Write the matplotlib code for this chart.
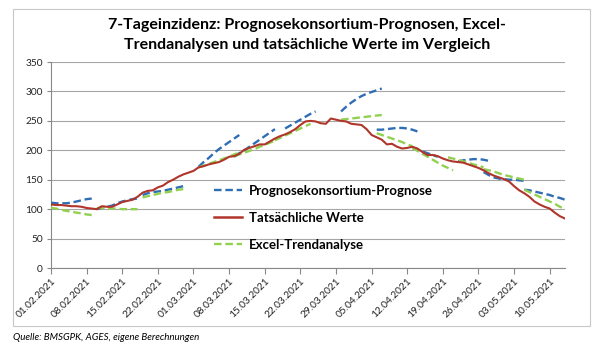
import matplotlib
matplotlib.use("Agg")
import matplotlib.pyplot as plt
from matplotlib.patches import Rectangle
from matplotlib.lines import Line2D
from datetime import datetime

plt.rcParams['font.family'] = ['Lato', 'DejaVu Sans']

# ---------------- data ----------------
first_date = "01.02.2021"
tick_labels = ["01.02.2021", "08.02.2021", "15.02.2021", "22.02.2021", "01.03.2021",
               "08.03.2021", "15.03.2021", "22.03.2021", "29.03.2021", "05.04.2021",
               "12.04.2021", "19.04.2021", "26.04.2021", "03.05.2021", "10.05.2021"]

# actual 7-day incidence, daily from 01.02.2021 to 13.05.2021
actual = [108, 107, 107, 106, 105, 105, 104, 102, 101, 100,
          105, 104, 104, 108, 112, 114, 116, 121, 128, 131,
          132, 137, 140, 146, 150, 155, 159, 162, 165, 171,
          173, 176, 178, 180, 184, 189, 190, 194, 201, 204,
          207, 210, 210, 215, 220, 224, 227, 231, 236, 243,
          249, 250, 249, 246, 245, 254, 252, 250, 249, 245,
          244, 243, 236, 226, 222, 218, 210, 211, 206, 203,
          204, 206, 203, 197, 192, 192, 190, 186, 183, 181,
          180, 179, 176, 173, 170, 166, 161, 157, 154, 151,
          147, 139, 132, 127, 121, 113, 108, 104, 101, 94,
          88, 84]

# Prognosekonsortium forecasts: start date and daily values
prog_starts = ["01.02.2021", "10.02.2021", "19.02.2021", "02.03.2021", "09.03.2021",
               "19.03.2021", "30.03.2021", "06.04.2021", "13.04.2021", "22.04.2021",
               "27.04.2021", "05.05.2021"]
prog_values = [
    [111, 110, 110, 110, 111, 113, 115, 117, 118],
    [100, 102, 104, 106, 110, 113, 115, 117, 118],
    [124, 127, 129, 130, 131, 133, 135, 137, 139],
    [172, 180, 187, 195, 202, 208, 214, 220, 226],
    [189, 195, 200, 206, 212, 218, 224, 230, 236],
    [237, 242, 247, 252, 257, 262, 266],
    [266, 274, 281, 287, 292, 296, 299, 302, 305],
    [235, 235, 236, 237, 238, 238, 237, 235, 232],
    [204, 201, 198, 195, 192, 189],
    [181, 183, 184, 185, 185, 184, 182],
    [163, 158, 154, 152, 151, 150, 150, 149, 148],
    [133, 132, 130, 128, 126, 124, 121, 119, 116],
]

# Excel trend analyses: start date and daily values
trend_starts = ["01.02.2021", "10.02.2021", "19.02.2021", "02.03.2021", "09.03.2021",
                "17.03.2021", "30.03.2021", "06.04.2021", "13.04.2021", "20.04.2021",
                "27.04.2021", "05.05.2021"]
trend_values = [
    [102, 101, 99, 97, 96, 94, 93, 91, 90],
    [102, 102, 101, 101, 101, 100, 100, 100, 100],
    [120, 122, 124, 126, 128, 129, 131, 133, 134],
    [171, 174, 177, 180, 183, 186, 189, 193, 196],
    [190, 193, 196, 199, 202, 206, 209, 213, 216],
    [217, 221, 225, 229, 233, 237, 241, 245],
    [252, 253, 254, 255, 256, 257, 258, 259, 260],
    [229, 226, 223, 220, 217, 214, 210, 207],
    [204, 199, 194, 189, 184, 179, 174, 170, 166],
    [188, 186, 184, 181, 179, 176, 174, 171],
    [168, 166, 164, 161, 158, 156, 154, 152, 150],
    [133, 129, 125, 121, 117, 113, 109, 104, 100],
]

series_names = ["Prognosekonsortium-Prognose", "Tatsächliche Werte", "Excel-Trendanalyse"]
title = "7-Tageinzidenz: Prognosekonsortium-Prognosen, Excel-\nTrendanalysen und tatsächliche Werte im Vergleich"
source = "Quelle: BMSGPK, AGES, eigene Berechnungen"

# ---------------- helpers ----------------
d0 = datetime.strptime(first_date, "%d.%m.%Y")
def day(s):
    return (datetime.strptime(s, "%d.%m.%Y") - d0).days

c_blue = '#2F6EB5'
c_red = '#B0352B'
c_green = '#92D050'

W, H = 604, 348
fig = plt.figure(figsize=(W / 100, H / 100), dpi=100)
ax = fig.add_axes([51 / W, 1 - 268 / H, (565 - 51) / W, (268 - 62) / H])

dash = (3.2, 1.6)
for s, vals in zip(prog_starts, prog_values):
    d = day(s)
    ax.plot(range(d, d + len(vals)), vals, color=c_blue, lw=1.7, dashes=dash, zorder=3)
for s, vals in zip(trend_starts, trend_values):
    d = day(s)
    ax.plot(range(d, d + len(vals)), vals, color=c_green, lw=1.7, dashes=dash, zorder=3)
ax.plot(range(len(actual)), actual, color=c_red, lw=1.5, zorder=4)

ax.set_xlim(0, 101)
ax.set_ylim(0, 350)
ax.set_yticks(range(0, 351, 50))
ax.set_xticks([day(t) for t in tick_labels])
ax.set_xticklabels(tick_labels, rotation=45, ha='right', rotation_mode='anchor')
ax.tick_params(axis='both', labelsize=7.3, colors='#888888', labelcolor='#222222')
ax.tick_params(axis='x', length=4, pad=2)
ax.tick_params(axis='y', length=3, pad=3)
ax.grid(axis='y', color='#A6A6A6', lw=0.8)
ax.set_axisbelow(True)
for sp in ['top', 'right']:
    ax.spines[sp].set_visible(False)
for sp in ['left', 'bottom']:
    ax.spines[sp].set_color('#888888')
    ax.spines[sp].set_linewidth(0.8)

handles = [Line2D([], [], color=c_blue, lw=1.7, dashes=dash),
           Line2D([], [], color=c_red, lw=1.8),
           Line2D([], [], color=c_green, lw=1.7, dashes=dash)]
ax.legend(handles, series_names, loc='center', bbox_to_anchor=(0.53, 0.243),
          frameon=False, prop={'weight': 'bold', 'size': 9.5},
          handlelength=2.1, handletextpad=0.5, labelspacing=1.15)

fig.text(0.509, 1 - 35 / H, title, ha='center', va='center', fontsize=11.5,
         fontweight='bold', linespacing=1.55)
fig.text(13 / W, 1 - 338 / H, source, ha='left', va='center', fontsize=7, style='italic')
fig.patches.append(Rectangle((13 / W, 1 - 326 / H), (590 - 13) / W, (326 - 9) / H,
                             transform=fig.transFigure, fill=False,
                             edgecolor='#C8C8C8', lw=0.8))

fig.savefig("out.png", dpi=100)
